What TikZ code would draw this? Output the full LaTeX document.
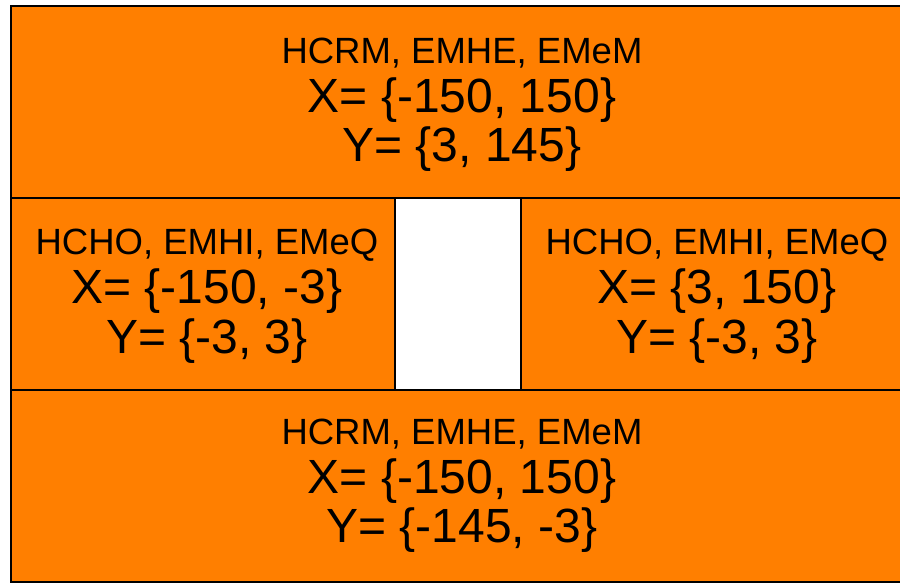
\documentclass[tikz,border=0pt]{standalone}
\usepackage{fontspec}
\setmainfont{Liberation Sans}
\usetikzlibrary{positioning}
\definecolor{bandorange}{RGB}{255,127,0}
\tikzset{
  band/.style={draw=black, line width=2pt, fill=bandorange},
  gap/.style={draw=black, line width=2pt, fill=white},
  namelbl/.style={anchor=base, inner sep=0pt, font=\fontsize{36.5}{40}\selectfont},
  rangelbl/.style={anchor=base, inner sep=0pt, font=\fontsize{48}{52}\selectfont},
}
\begin{document}
\begin{tikzpicture}[x=1pt, y=-1pt]
  \useasboundingbox (0,0) rectangle (900,582);
  % bands
  \draw[band] (11,5.5) rectangle (913,198);
  \draw[band] (11,198) rectangle (395,390);
  \draw[gap] (395,198) rectangle (521,390);
  \draw[band] (521,198) rectangle (913,390);
  \draw[band] (11,390) rectangle (913,581.5);
  % top band
  \node[namelbl] (topnames) at (462,63) {HCRM, EMHE, EMeM};
  \node[rangelbl] (topx) at (462,112) {X= \{-150, 150\}};
  \node[rangelbl] (topy) at (462,161) {Y= \{3, 145\}};
  % middle left
  \node[namelbl] (leftnames) at (207,254) {HCHO, EMHI, EMeQ};
  \node[rangelbl] (leftx) at (207,303) {X= \{-150, -3\}};
  \node[rangelbl] (lefty) at (207,353) {Y= \{-3, 3\}};
  % middle right
  \node[namelbl] (rightnames) at (717,254) {HCHO, EMHI, EMeQ};
  \node[rangelbl] (rightx) at (717,303) {X= \{3, 150\}};
  \node[rangelbl] (righty) at (717,353) {Y= \{-3, 3\}};
  % bottom band
  \node[namelbl] (botnames) at (462,444) {HCRM, EMHE, EMeM};
  \node[rangelbl] (botx) at (462,493) {X= \{-150, 150\}};
  \node[rangelbl] (boty) at (462,542) {Y= \{-145, -3\}};
\end{tikzpicture}
\end{document}
